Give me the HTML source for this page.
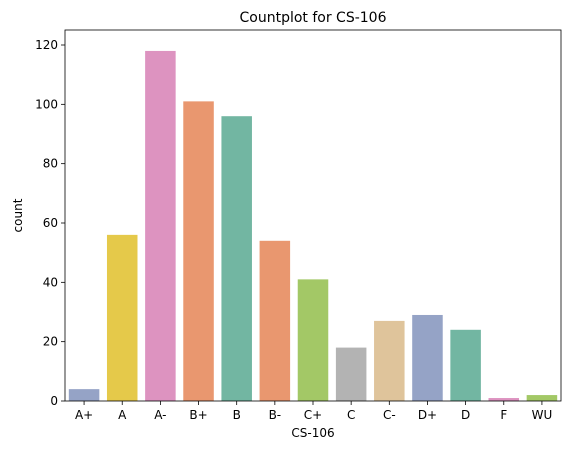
<!DOCTYPE html>
<html><head><meta charset="utf-8"><style>
body{margin:0;background:#fff;font-family:"Liberation Sans","DejaVu Sans",sans-serif}
svg text{font-family:"DejaVu Sans","Liberation Sans",sans-serif;fill:#000}
</style></head><body>
<svg id="chart" width="571" height="455"></svg>
<script>
const categories=["A+","A","A-","B+","B","B-","C+","C","C-","D+","D","F","WU"];
const counts=[4,56,118,101,96,54,41,18,27,29,24,1,2];
const colors=["#95a3c6","#e5c94a","#dd93c0","#e9976f","#72b6a2","#e9976f","#a3c866","#b3b3b3","#dfc49b","#95a3c6","#72b6a2","#dd93c0","#a3c866"];
const yTicks=[0,20,40,60,80,100,120];
const NS="http://www.w3.org/2000/svg";
const svg=document.getElementById('chart');
const L=65,R=561,T=30,B=401;
const y=v=>B-v*(356/120);
const band=(R-L)/categories.length;
const x=i=>L+band*i;
function el(t,a,p){const e=document.createElementNS(NS,t);for(const k in a)e.setAttribute(k,a[k]);(p||svg).appendChild(e);return e;}
categories.forEach((c,i)=>{
  const r=el('rect',{x:x(i)+band*0.1,y:y(counts[i]),width:band*0.8,height:B-y(counts[i]),fill:colors[i]});
  
  
  el('line',{x1:x(i)+band/2,x2:x(i)+band/2,y1:B,y2:B+4,stroke:'#000','stroke-width':0.8});
  const t=el('text',{x:x(i)+band/2,y:B+18,'text-anchor':'middle','font-size':12});
  t.textContent=c;
  
  
});
yTicks.forEach(v=>{
  el('line',{x1:L-4,x2:L,y1:y(v),y2:y(v),stroke:'#000','stroke-width':0.8});
  const t=el('text',{x:L-7,y:y(v)+4,'text-anchor':'end','font-size':12});
  t.textContent=v;
  
  
});
const f=el('rect',{x:L,y:T,width:R-L,height:B-T,fill:'none',stroke:'#000','stroke-width':0.8});


const tt=el('text',{x:(L+R)/2,y:T-8,'text-anchor':'middle','font-size':14});
tt.textContent='Countplot for CS-106';


const xl=el('text',{x:(L+R)/2,y:B+36,'text-anchor':'middle','font-size':12});
xl.textContent='CS-106';


const yl=el('text',{x:22,y:(T+B)/2,'text-anchor':'middle','font-size':12,transform:`rotate(-90 22 ${(T+B)/2})`});
yl.textContent='count';


</script>
</body></html>
